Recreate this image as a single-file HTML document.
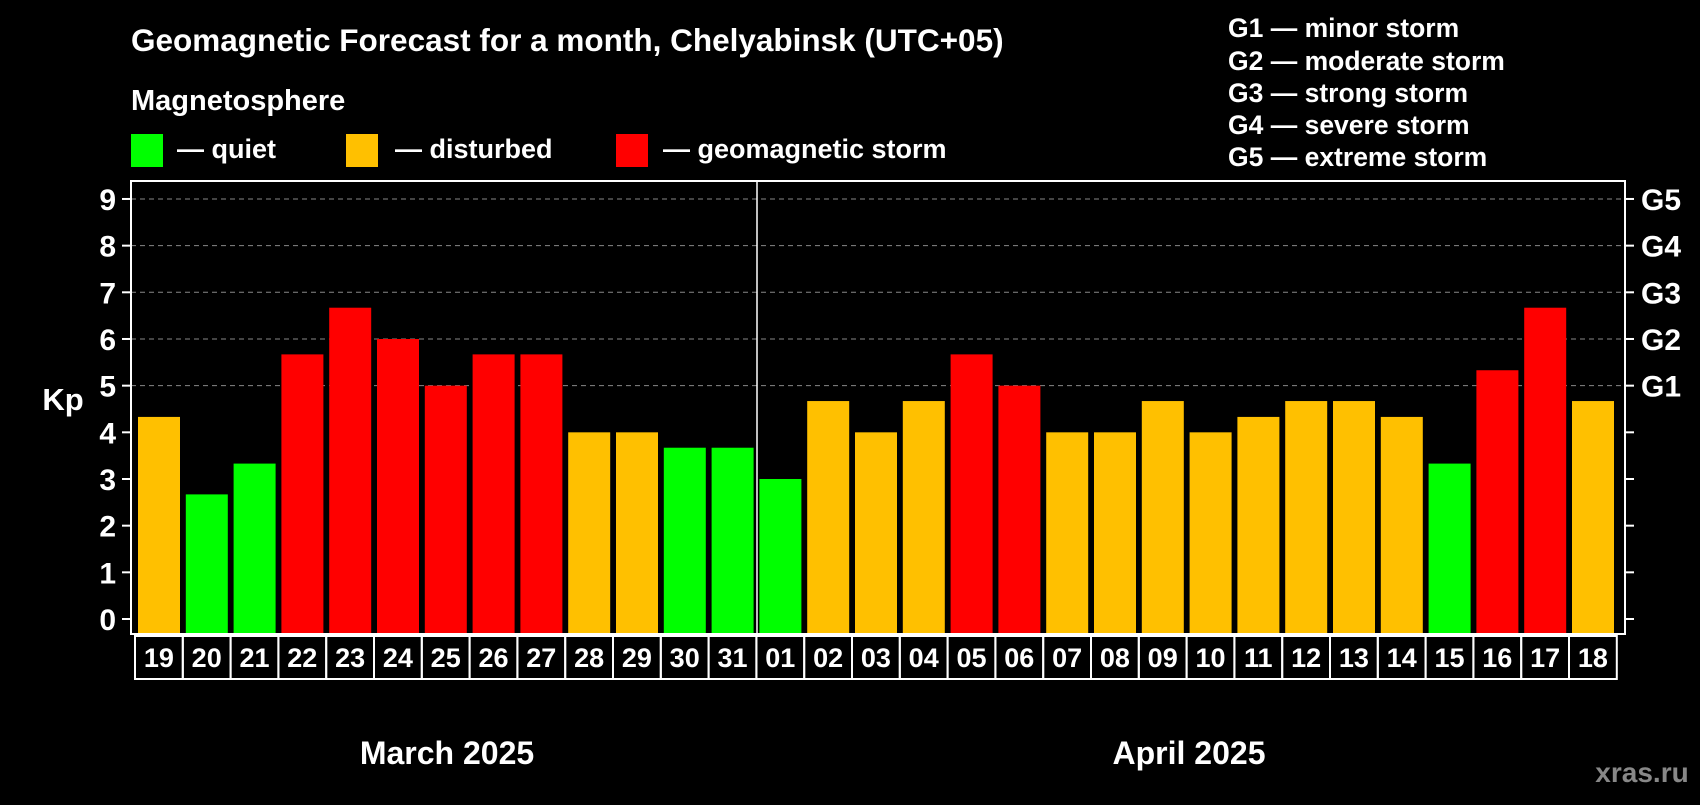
<!DOCTYPE html>
<html><head><meta charset="utf-8"><style>
body{margin:0;background:#000;width:1700px;height:800px;overflow:hidden}
svg text{font-family:"Liberation Sans",sans-serif;font-weight:bold;fill:#fff}
</style></head><body>
<svg id="chart" width="1700" height="800">
<text x="131" y="51" font-size="31.5">Geomagnetic Forecast for a month, Chelyabinsk (UTC+05)</text>
<text x="131" y="110" font-size="29">Magnetosphere</text>
<g><rect x="131" y="134" width="32" height="33" fill="#00ff00"/><text x="177" y="158" font-size="27">— quiet</text></g>
<g><rect x="346" y="134" width="32" height="33" fill="#ffc000"/><text x="395" y="158" font-size="27">— disturbed</text></g>
<g><rect x="616" y="134" width="32" height="33" fill="#ff0000"/><text x="663" y="158" font-size="27">— geomagnetic storm</text></g>
<g font-size="26.5">
<text x="1228" y="37">G1 — minor storm</text><text x="1228" y="70">G2 — moderate storm</text><text x="1228" y="102">G3 — strong storm</text><text x="1228" y="134">G4 — severe storm</text><text x="1228" y="166">G5 — extreme storm</text></g>
<text x="63" y="410" font-size="31" text-anchor="middle">Kp</text>
<text x="447" y="764" font-size="32" text-anchor="middle">March 2025</text>
<text x="1189" y="764" font-size="32" text-anchor="middle">April 2025</text>
<text x="1642" y="782" font-size="28" text-anchor="middle" style="fill:#888">xras.ru</text>
<g id="grid"></g><g id="bars"></g><g id="axes"></g>
</svg>
<script>
const days=["19","20","21","22","23","24","25","26","27","28","29","30","31","01","02","03","04","05","06","07","08","09","10","11","12","13","14","15","16","17","18"];
const kp=[4.33,2.67,3.33,5.67,6.67,6,5,5.67,5.67,4,4,3.67,3.67,3,4.67,4,4.67,5.67,5,4,4,4.67,4,4.33,4.67,4.67,4.33,3.33,5.33,6.67,4.67];
const yTicks=[0,1,2,3,4,5,6,7,8,9];
const gLabels=["G1","G2","G3","G4","G5"];
const gLevels=[5,6,7,8,9];
const NS="http://www.w3.org/2000/svg";
const L=131,R=1625,T=181,B=634;
const pitch=47.8;
const y=v=>619-v*46.67;
const x=i=>135+i*pitch;
function mk(t,a,p){const e=document.createElementNS(NS,t);for(const k in a)e.setAttribute(k,a[k]);p.appendChild(e);return e;}
const grid=document.getElementById('grid'),bars=document.getElementById('bars'),axes=document.getElementById('axes');
gLevels.forEach((g,i)=>{
 const ln=mk('line',{x1:L,x2:R,y1:y(g),y2:y(g),stroke:'#888','stroke-dasharray':'5,4','stroke-width':1},grid);
 
 
 const t=mk('text',{x:1641,y:y(g)+11,'font-size':30},axes);t.textContent=gLabels[i];
 
 
});
kp.forEach((v,i)=>{
 const c=v>=5?'#ff0000':(v>=4?'#ffc000':'#00ff00');
 const r=mk('rect',{x:x(i)+3,y:y(v),width:42,height:B-y(v),fill:c},bars);
 
 
 const cell=mk('rect',{x:x(i),y:636,width:pitch,height:43,fill:'none',stroke:'#fff','stroke-width':2},axes);
 
 
 const t=mk('text',{x:x(i)+pitch/2,y:667,'font-size':27,'text-anchor':'middle'},axes);t.textContent=days[i];
 
 
});
yTicks.forEach(v=>{
 mk('line',{x1:122,x2:L,y1:y(v),y2:y(v),stroke:'#fff','stroke-width':2},axes);
 mk('line',{x1:R,x2:R+9,y1:y(v),y2:y(v),stroke:'#fff','stroke-width':2},axes);
 const t=mk('text',{x:116,y:y(v)+11,'font-size':30,'text-anchor':'end'},axes);t.textContent=v;
 
 
});
const fr=mk('rect',{x:L,y:T,width:R-L,height:B-T,fill:'none',stroke:'#fff','stroke-width':2},axes);


const dv=mk('line',{x1:757,x2:757,y1:T,y2:B,stroke:'#fff','stroke-width':1.5},axes);


</script>
</body></html>
